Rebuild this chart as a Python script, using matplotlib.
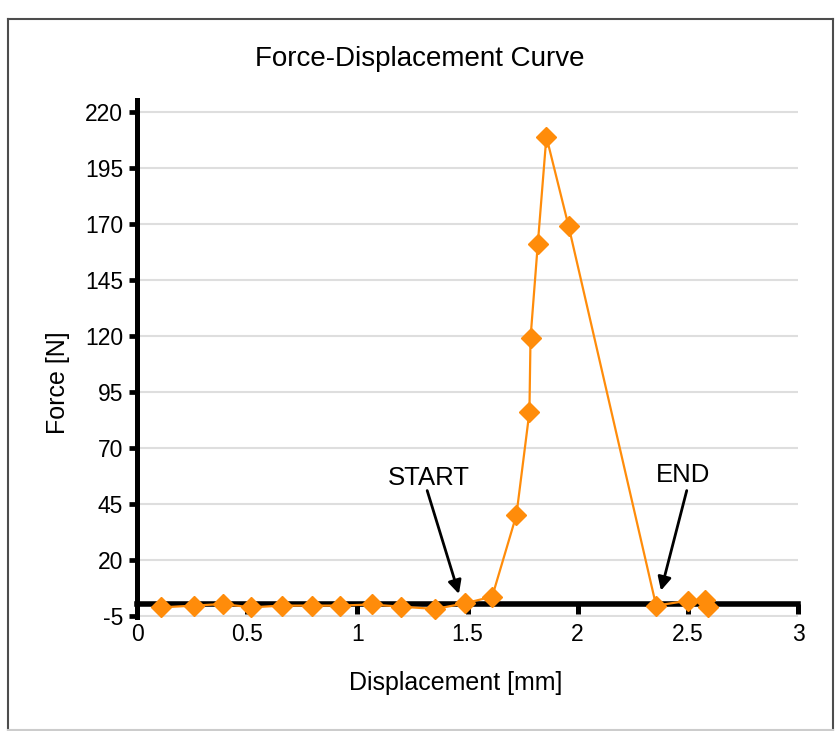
import matplotlib
matplotlib.use('Agg')
import matplotlib.pyplot as plt
from matplotlib.lines import Line2D

plt.rcParams['font.family'] = ['Liberation Sans', 'DejaVu Sans']
plt.rcParams['axes.unicode_minus'] = False

# data
displacement = [0.111, 0.259, 0.390, 0.519, 0.657, 0.794, 0.923, 1.065, 1.198, 1.354,
                1.488, 1.612, 1.722, 1.781, 1.786, 1.819, 1.858, 1.959, 2.356, 2.503,
                2.578, 2.590]
force = [-1.3, -0.5, 0.2, -1.3, -0.5, -0.5, -0.5, 0.0, -1.0, -2.0,
         0.5, 3.5, 40.0, 86.0, 119.0, 161.0, 209.0, 169.0, -0.5, 1.7,
         2.2, -1.0]

x_ticks = [0, 0.5, 1, 1.5, 2, 2.5, 3]
x_tick_labels = ['0', '0.5', '1', '1.5', '2', '2.5', '3']
y_ticks = [-5, 20, 45, 70, 95, 120, 145, 170, 195, 220]

# annotation arrows: (label, text pos, arrow tail, arrow head)
start_note = ('START', (1.323, 56.7), (1.317, 50.9), (1.461, 4.7))
end_note = ('END', (2.479, 58.0), (2.495, 50.9), (2.378, 6.2))

W, H = 835, 731
fig = plt.figure(figsize=(W / 100, H / 100), dpi=100)
ax = fig.add_axes([137 / W, 1 - 617 / H, (798 - 137) / W, (617 - 100.5) / H])

orange = '#ff8c0a'
ax.plot(displacement, force, color=orange, lw=1.6, marker='D', markersize=10,
        markerfacecolor=orange, markeredgecolor=orange, zorder=4, clip_on=False)

ax.set_xlim(0, 3)
ax.set_ylim(-5.6, 225.2)

ax.spines['top'].set_visible(False)
ax.spines['right'].set_visible(False)
ax.spines['bottom'].set_position(('data', 0))
ax.spines['bottom'].set_linewidth(4.0)
ax.spines['left'].set_linewidth(3.6)
ax.spines['bottom'].set_zorder(3)

ax.set_xticks(x_ticks)
ax.set_xticklabels(x_tick_labels)
ax.set_yticks(y_ticks)
ax.tick_params(axis='x', direction='out', length=7, width=3.6, pad=6, labelsize=16.5)
ax.tick_params(axis='y', direction='out', length=6, width=3.4, pad=4, labelsize=16.5)

ax.yaxis.grid(True, color='#dedede', lw=1.5)
ax.set_axisbelow(True)

for label, text_pos, tail, head in [start_note, end_note]:
    ax.annotate('', xy=head, xytext=tail,
                arrowprops=dict(arrowstyle='-|>', color='black', lw=2,
                                mutation_scale=20, shrinkA=0, shrinkB=0))
    ax.text(text_pos[0], text_pos[1], label, ha='center', va='center', fontsize=18.5)

fig.text(420 / W, 1 - 59 / H, 'Force-Displacement Curve', ha='center', va='center', fontsize=20)
fig.text(456 / W, 1 - 683 / H, 'Displacement [mm]', ha='center', va='center', fontsize=18)
fig.text(58 / W, 1 - 383 / H, 'Force [N]', ha='center', va='center', fontsize=18, rotation=90)

# frame around the whole picture
fig.add_artist(Line2D([8 / W, 833 / W], [1 - 18.5 / H, 1 - 18.5 / H], color='#4d4d4d', lw=1.5))
fig.add_artist(Line2D([8 / W, 8 / W], [1 - 18.5 / H, 1 - 730 / H], color='#4d4d4d', lw=1.5))
fig.add_artist(Line2D([833 / W, 833 / W], [1 - 18.5 / H, 1 - 730 / H], color='#4d4d4d', lw=1.5))
fig.add_artist(Line2D([8 / W, 833 / W], [1 - 730 / H, 1 - 730 / H], color='#cccccc', lw=1.5))

fig.savefig('out.png', dpi=100)
